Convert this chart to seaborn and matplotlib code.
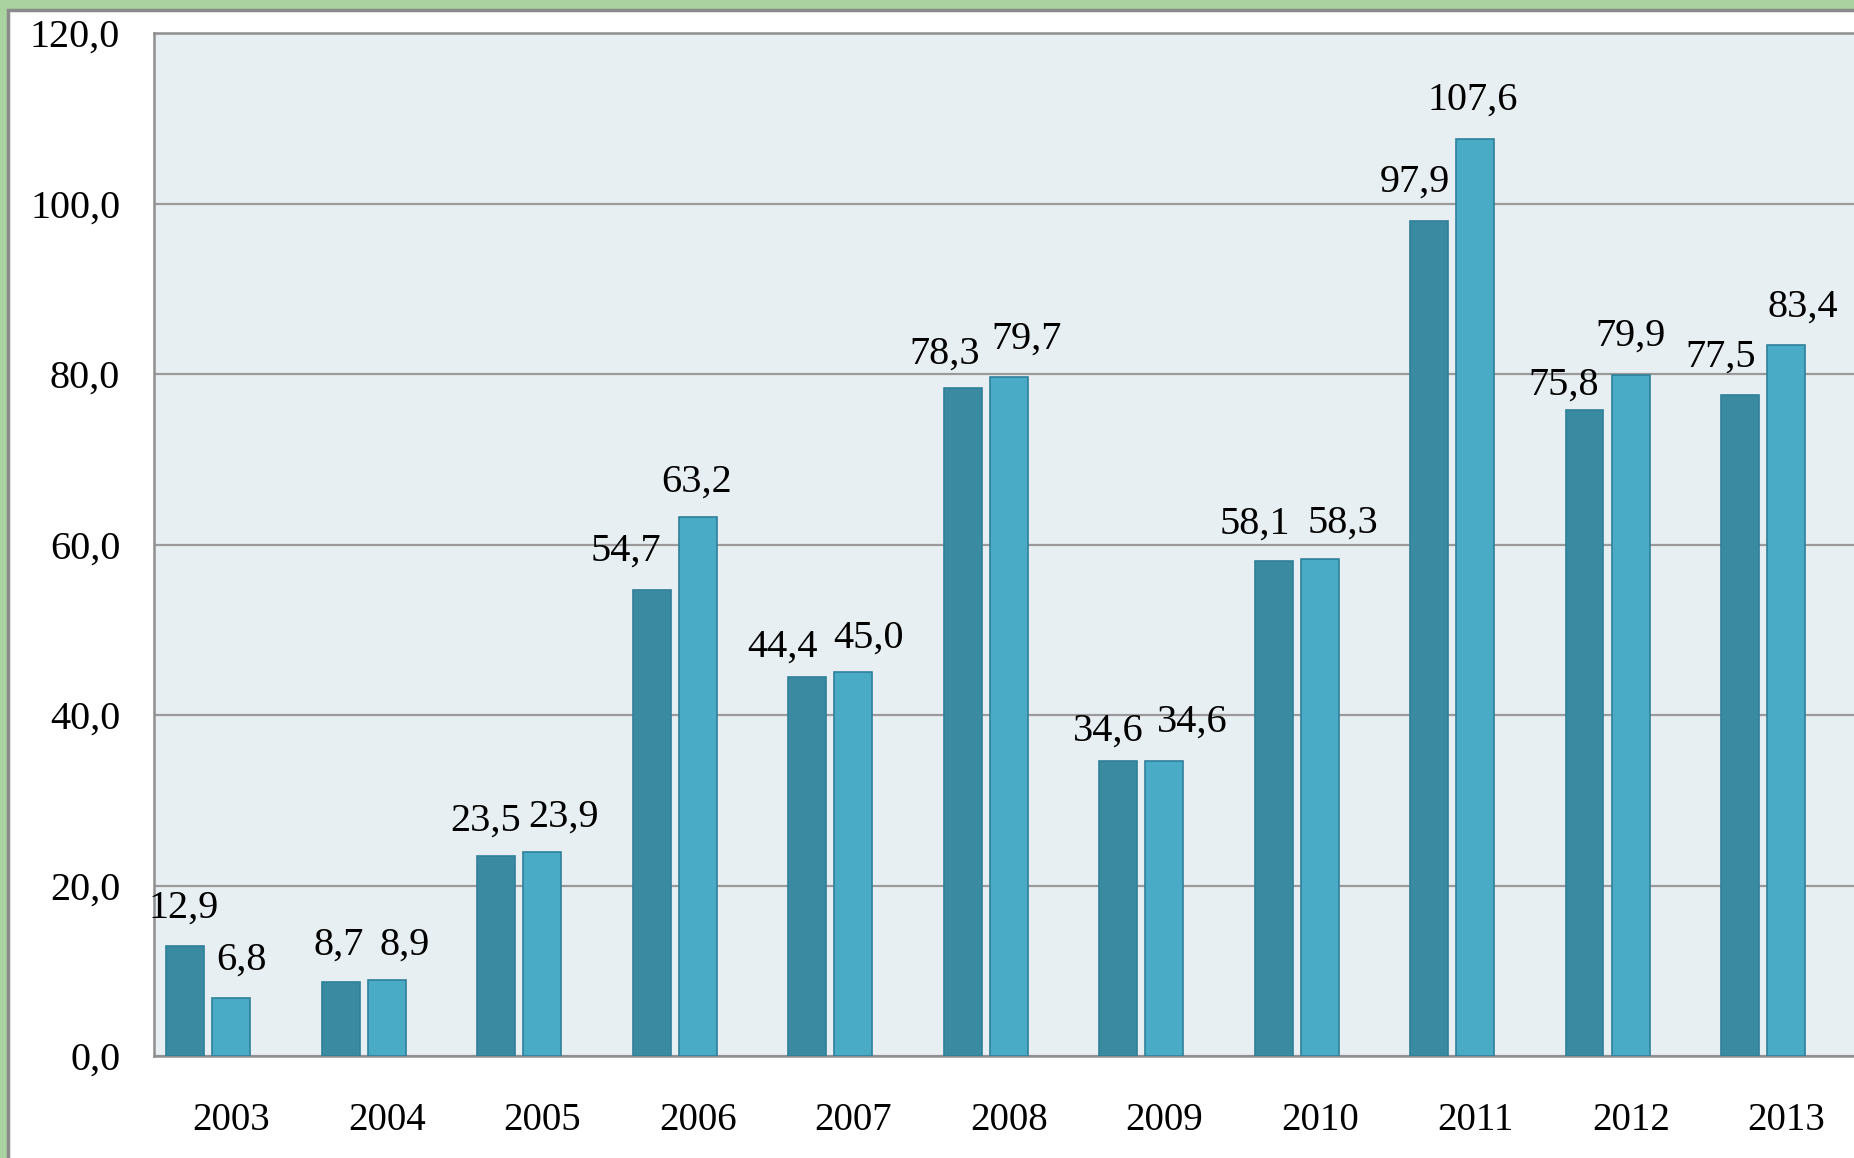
import numpy as np
import pandas as pd
import matplotlib
matplotlib.use("Agg")
import matplotlib.pyplot as plt
import seaborn as sns
from matplotlib.patches import Rectangle

# ---- data ----
years = ["2003", "2004", "2005", "2006", "2007", "2008", "2009", "2010", "2011", "2012", "2013"]
series_a = [12.9, 8.7, 23.5, 54.7, 44.4, 78.3, 34.6, 58.1, 97.9, 75.8, 77.5]
series_b = [6.8, 8.9, 23.9, 63.2, 45.0, 79.7, 34.6, 58.3, 107.6, 79.9, 83.4]
series_names = ["A", "B", "C"]  # third series slot is empty in the source chart
y_ticks = [0, 20, 40, 60, 80, 100, 120]

# label offsets (pixels) relative to bar top centre
off_a = [(-1, 32), (-2, 31), (-9, 29), (-22, 33), (-21, 26), (-15, 29), (-8, 25), (-16, 31), (-12, 33), (-18, 21), (-16, 32)]
off_b = [(9, 32), (15, 30), (18, 30), (-1, 30), (13, 29), (15, 32), (24, 33), (20, 30), (-2, 33), (0, 33), (14, 32)]

df = pd.DataFrame({
    "year": years * 2,
    "value": series_a + series_b,
    "series": ["A"] * len(years) + ["B"] * len(years),
})

sns.set_theme(style="white")
plt.rcParams["font.family"] = ["Liberation Serif", "DejaVu Serif"]

W, H = 1854, 1158
fig = plt.figure(figsize=(W / 100, H / 100), dpi=100)
fig.patch.set_facecolor("#a9d2a0")
# white inner panel with gray border
fig.add_artist(Rectangle((8 / W, -0.01), 1.02, (H - 10) / H + 0.01, transform=fig.transFigure,
                         facecolor="white", edgecolor="#8a8a8a", linewidth=2.5, zorder=0))

ax = fig.add_axes([153.5 / W, (H - 1056) / H, 1 - 153.5 / W, (1056 - 33) / H])
ax.set_facecolor("#e8eff3")

palette = {"A": "#3a8aa1", "B": "#4aabc6", "C": "#ffffff"}
sns.barplot(data=df, x="year", y="value", hue="series", hue_order=series_names,
            order=years, palette=palette, saturation=1, width=0.89, gap=0.18, dodge=True,
            edgecolor="#2f8099", linewidth=1.2, errorbar=None, legend=False,
            ax=ax, zorder=3)

ax.set_xlim(-0.5, 10.436)
ax.set_ylim(0, 120)
ax.set_yticks(y_ticks)
ax.set_yticklabels([f"{v:.1f}".replace(".", ",") for v in y_ticks])
ax.yaxis.grid(True, color="#9a9a9a", linewidth=1.6, zorder=0)
ax.set_axisbelow(True)
ax.set_xlabel("")
ax.set_ylabel("")
ax.tick_params(axis="x", length=0, labelsize=28, colors="black", pad=33)
ax.tick_params(axis="y", length=0, labelsize=29, colors="black", pad=24)
for s in ["left", "top", "bottom"]:
    ax.spines[s].set_color("#8f8f8f")
    ax.spines[s].set_linewidth(1.8)
ax.spines["right"].set_visible(False)

# data labels
containers = ax.containers
for cont, vals, offs in [(containers[0], series_a, off_a), (containers[1], series_b, off_b)]:
    for bar, v, (dx, dy) in zip(cont.patches, vals, offs):
        xc = bar.get_x() + bar.get_width() / 2
        yt = bar.get_height()
        ax.annotate(f"{v:.1f}".replace(".", ","), xy=(xc, yt),
                    xytext=(dx * 1.1824, dy * 1.1824), textcoords="offset pixels",
                    ha="center", va="center", fontsize=29, color="black", zorder=5,
                    annotation_clip=False)

fig.savefig("out.png", dpi=100, facecolor=fig.get_facecolor())
